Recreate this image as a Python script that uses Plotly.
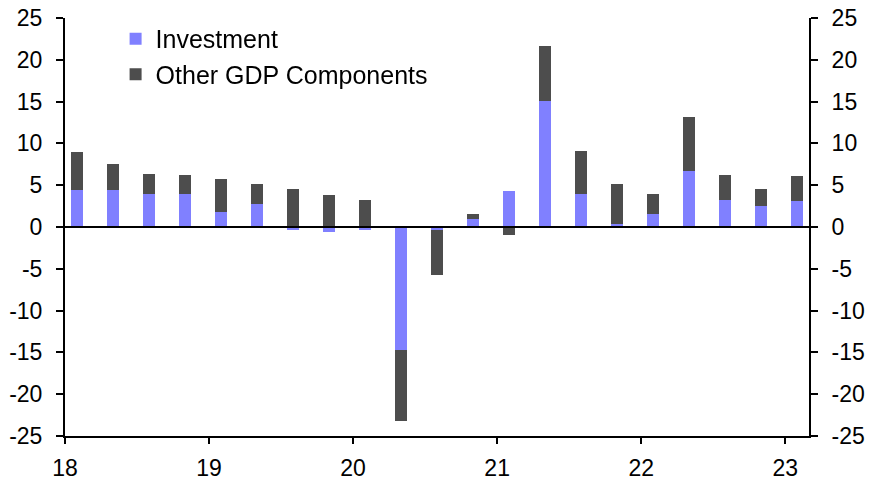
import plotly.graph_objects as go

quarters = ["2018Q1", "2018Q2", "2018Q3", "2018Q4",
            "2019Q1", "2019Q2", "2019Q3", "2019Q4",
            "2020Q1", "2020Q2", "2020Q3", "2020Q4",
            "2021Q1", "2021Q2", "2021Q3", "2021Q4",
            "2022Q1", "2022Q2", "2022Q3", "2022Q4",
            "2023Q1"]
investment = [4.4, 4.4, 3.9, 4.0, 1.8, 2.7, -0.3, -0.6, -0.3, -14.7, -0.4, 0.9,
              4.3, 15.1, 4.0, 0.4, 1.6, 6.7, 3.2, 2.5, 3.1]
other = [4.6, 3.1, 2.5, 2.2, 4.0, 2.4, 4.5, 3.8, 3.2, -8.5, -5.3, 0.6,
         -0.9, 6.6, 5.1, 4.8, 2.3, 6.5, 3.0, 2.0, 3.0]
year_ticks = [2018, 2019, 2020, 2021, 2022, 2023]
year_labels = ["18", "19", "20", "21", "22", "23"]
y_ticks = [-25, -20, -15, -10, -5, 0, 5, 10, 15, 20, 25]
y_labels = ["-25", "-20", "-15", "-10", "-5", "0", "5", "10", "15", "20", "25"]

# bar centred on middle month of each quarter
x = [int(q[:4]) + (3 * (int(q[-1]) - 1) + 1) / 12 for q in quarters]
totals = [a + b for a, b in zip(investment, other)]

FONT = "Liberation Sans, Arial, sans-serif"
INV_COLOR = "#8080FF"
OTH_COLOR = "#4D4D4D"

fig = go.Figure()
fig.add_trace(go.Bar(x=x, y=investment, name="Investment", marker_color=INV_COLOR,
                     marker_line_width=0, width=1 / 12))
fig.add_trace(go.Bar(x=x, y=other, name="Other GDP Components", marker_color=OTH_COLOR,
                     marker_line_width=0, width=1 / 12))
# invisible trace to activate the right-hand axis
fig.add_trace(go.Scatter(x=x, y=totals, yaxis="y2", mode="markers", opacity=0,
                         showlegend=False, hoverinfo="skip"))

axis_common = dict(
    range=[-25, 25], tickvals=y_ticks, ticktext=y_labels, showgrid=False, zeroline=False,
    showline=True, linecolor="black", linewidth=2, automargin=False,
    ticks="outside", ticklen=7, tickwidth=2, tickcolor="black",
    tickfont=dict(family=FONT, size=23, color="black"),
)

fig.update_layout(
    width=871, height=482,
    margin=dict(l=65, r=62, t=18, b=46, autoexpand=False),
    paper_bgcolor="white", plot_bgcolor="white",
    barmode="relative", bargap=0,
    font=dict(family=FONT, color="black"),
    xaxis=dict(range=[2018, 2018 + 5.165], tickvals=year_ticks, ticktext=year_labels,
               showgrid=False, zeroline=False, showline=True, linecolor="black",
               linewidth=2, ticks="outside", ticklen=6, tickwidth=2, tickcolor="black",
               tickfont=dict(family=FONT, size=23, color="black"), automargin=False,
               ticklabelstandoff=4),
    yaxis=dict(**axis_common, ticklabelstandoff=9),
    yaxis2=dict(**axis_common, overlaying="y", side="right", ticklabelstandoff=9),
    legend=dict(x=0.068, y=1.005, xanchor="left", yanchor="top",
                bgcolor="rgba(0,0,0,0)", font=dict(family=FONT, size=25, color="black"),
                itemwidth=30, tracegroupgap=0, traceorder="normal"),
    shapes=[dict(type="line", xref="paper", x0=0, x1=1, yref="y", y0=0, y1=0,
                 line=dict(color="black", width=2))],
)

fig.write_html("out.html", config={"displayModeBar": False, "staticPlot": True},
               post_script="document.body.style.margin='0';document.body.style.overflow='hidden';")
